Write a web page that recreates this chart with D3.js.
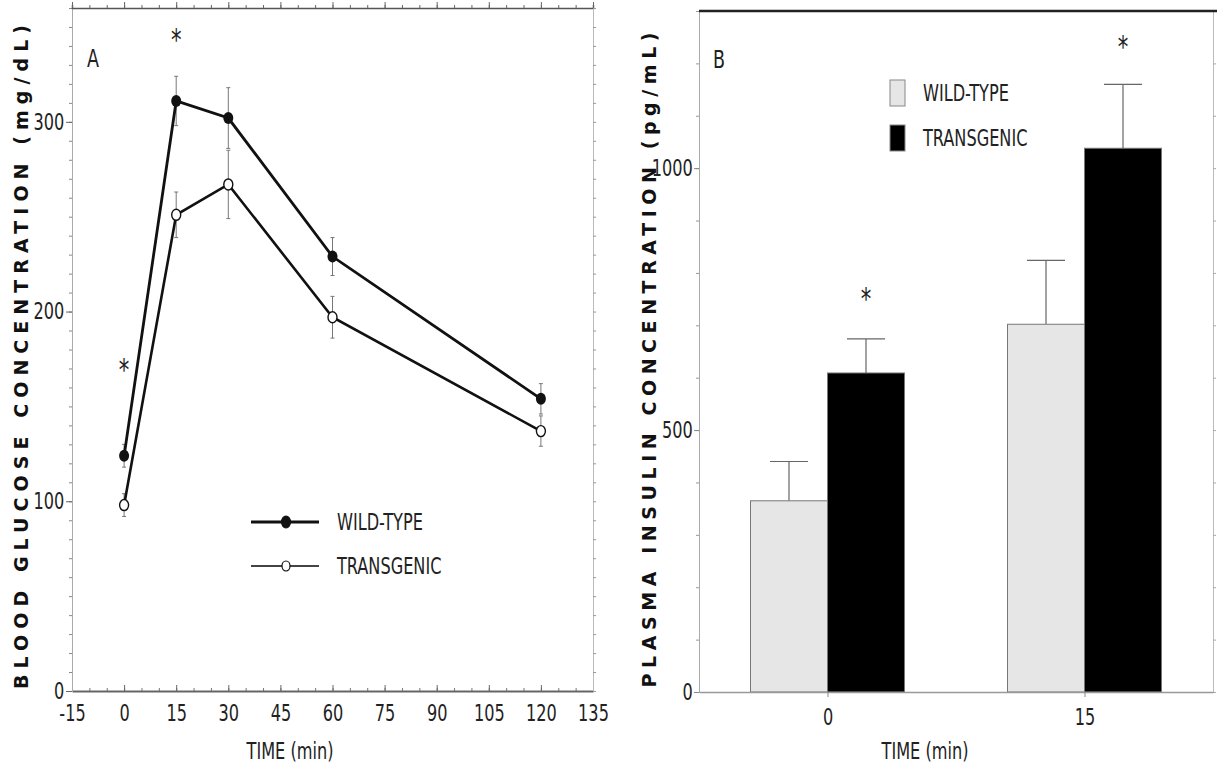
<!DOCTYPE html>
<html lang="en">
<head>
<meta charset="UTF-8">
<title>Glucose and insulin</title>
<script src="https://d3js.org/d3.v7.min.js"></script>
<style>
  body { margin: 0; background: #fff; }
  svg { display: block; }
  .tick text, .lbl { font-family: "DejaVu Sans Condensed", "DejaVu Sans", sans-serif; fill: #222; }
  .ttl { font-family: "DejaVu Sans", Verdana, sans-serif; font-weight: bold; fill: #111; }
</style>
</head>
<body>
<svg id="chart" width="1217" height="784"></svg>
<script>
// panel A: blood glucose after glucose load
const timesA = [0, 15, 30, 60, 120];
const wildGlucose = [124, 311, 302, 229, 154];
const wildGlucoseErr = [6, 13, 16, 10, 8];
const tgGlucose = [98, 251, 267, 197, 137];
const tgGlucoseErr = [6, 12, 18, 11, 8];
const starsA = [[0, 170], [15, 344]];
const xTicksA = [-15, 0, 15, 30, 45, 60, 75, 90, 105, 120, 135];
const yTicksA = [0, 100, 200, 300];

// panel B: plasma insulin
const timesB = ["0", "15"];
const groupsB = ["WILD-TYPE", "TRANSGENIC"];
const wildInsulin = [365, 702];
const wildInsulinErr = [75, 122];
const tgInsulin = [609, 1038];
const tgInsulinErr = [65, 122];
const starsB = [["0", 754], ["15", 1235]];
const yTicksB = [0, 500, 1000];

const svg = d3.select("#chart");
const squeeze = "scale(0.78,1)";

// condensed text label
function label(g, x, y, txt, size, anchor) {
  return g.append("text").attr("class", "lbl")
    .attr("transform", `translate(${x},${y}) ${squeeze}`)
    .attr("text-anchor", anchor || "start")
    .attr("font-size", size).text(txt);
}

function styleTicks(g) {
  g.selectAll("text").attr("font-size", 23).attr("transform", squeeze);
}

// ---------- panel A ----------
const xA = d3.scaleLinear().domain([-15, 135]).range([72, 593]);
const yA = d3.scaleLinear().domain([0, 360]).range([691, 8]);

const gA = svg.append("g");

// minor ticks first, then major axes on top
gA.append("g").attr("transform", `translate(0,${yA(0)})`)
  .call(d3.axisBottom(xA).tickValues(d3.range(-15, 136, 5)).tickSize(-3).tickFormat(""))
  .call(g => g.select(".domain").remove())
  .selectAll("line").attr("stroke", "#777");
gA.append("g").attr("transform", `translate(0,${yA(0)})`)
  .call(d3.axisBottom(xA).tickValues(xTicksA).tickSize(-6).tickSizeOuter(0).tickPadding(14)
    .tickFormat(d => String(d)))
  .call(g => g.select(".domain").attr("stroke", "#666").attr("stroke-width", 2))
  .call(g => g.selectAll("line").attr("stroke", "#666"))
  .call(styleTicks);

gA.append("g").attr("transform", `translate(${xA(-15)},0)`)
  .call(d3.axisLeft(yA).tickValues(d3.range(0, 361, 10)).tickSize(3).tickFormat(""))
  .call(g => g.select(".domain").attr("stroke", "#aaa"))
  .selectAll("line").attr("stroke", "#888");
gA.append("g").attr("transform", `translate(${xA(-15)},0)`)
  .call(d3.axisLeft(yA).tickValues(yTicksA).tickSize(6).tickSizeOuter(0).tickPadding(4)
    .tickFormat(d => String(d)))
  .call(g => g.select(".domain").remove())
  .call(g => g.selectAll("line").attr("stroke", "#666"))
  .call(styleTicks);

gA.append("g").attr("transform", `translate(0,${yA(360)})`)
  .call(d3.axisTop(xA).tickValues(d3.range(-15, 136, 5)).tickSize(3).tickFormat(""))
  .call(g => g.select(".domain").attr("stroke", "#555").attr("stroke-width", 1.5))
  .selectAll("line").attr("stroke", "#666");
gA.append("g").attr("transform", `translate(0,${yA(360)})`)
  .call(d3.axisTop(xA).tickValues(xTicksA).tickSize(6).tickFormat(""))
  .call(g => g.select(".domain").remove())
  .selectAll("line").attr("stroke", "#666");

gA.append("g").attr("transform", `translate(${xA(135)},0)`)
  .call(d3.axisRight(yA).tickValues(d3.range(0, 361, 10)).tickSize(3).tickFormat(""))
  .call(g => g.select(".domain").attr("stroke", "#bbb"))
  .selectAll("line").attr("stroke", "#999");

// error bars
function errA(vals, errs) {
  const g = gA.append("g").attr("stroke", "#777").attr("stroke-width", 1);
  timesA.forEach((t, i) => {
    const x = xA(t), top = yA(vals[i] + errs[i]), bot = yA(vals[i] - errs[i]);
    g.append("line").attr("x1", x).attr("x2", x).attr("y1", top).attr("y2", bot);
    g.append("line").attr("x1", x - 2).attr("x2", x + 2).attr("y1", top).attr("y2", top);
    g.append("line").attr("x1", x - 2).attr("x2", x + 2).attr("y1", bot).attr("y2", bot);
  });
}
errA(wildGlucose, wildGlucoseErr);
errA(tgGlucose, tgGlucoseErr);

const lineA = d3.line().x((d, i) => xA(timesA[i])).y(d => yA(d));
gA.append("path").datum(tgGlucose).attr("d", lineA)
  .attr("fill", "none").attr("stroke", "#111").attr("stroke-width", 2.6);
gA.append("path").datum(wildGlucose).attr("d", lineA)
  .attr("fill", "none").attr("stroke", "#111").attr("stroke-width", 2.8);

gA.selectAll(".tgpt").data(tgGlucose).join("ellipse")
  .attr("cx", (d, i) => xA(timesA[i])).attr("cy", d => yA(d))
  .attr("rx", 4.5).attr("ry", 5.5)
  .attr("fill", "#fff").attr("stroke", "#111").attr("stroke-width", 1.4);
gA.selectAll(".wtpt").data(wildGlucose).join("ellipse")
  .attr("cx", (d, i) => xA(timesA[i])).attr("cy", d => yA(d))
  .attr("rx", 5).attr("ry", 6)
  .attr("fill", "#111");

starsA.forEach(d => label(gA, xA(d[0]), yA(d[1]) + 12, "*", 30, "middle"));
label(gA, 87, 67, "A", 25);

// legend A
const legA = gA.append("g").attr("transform", "translate(251,522)");
[["WILD-TYPE", "#111"], ["TRANSGENIC", "#fff"]].forEach((d, i) => {
  const row = legA.append("g").attr("transform", `translate(0,${i * 44})`);
  row.append("line").attr("x1", 0).attr("x2", 68)
    .attr("stroke", i ? "#444" : "#111").attr("stroke-width", i ? 2 : 2.8);
  row.append("ellipse").attr("cx", 35).attr("rx", i ? 4 : 4.5).attr("ry", i ? 5 : 6)
    .attr("fill", d[1]).attr("stroke", "#111").attr("stroke-width", 1.2);
  label(row, 86, 8, d[0], 23);
});

label(gA, 290, 759, "TIME (min)", 23, "middle");

gA.append("text").attr("class", "ttl")
  .attr("transform", "translate(28,357) rotate(-90)")
  .attr("text-anchor", "middle").attr("font-size", 19)
  .attr("textLength", 664).attr("lengthAdjust", "spacing")
  .text("BLOOD GLUCOSE CONCENTRATION (mg/dL)");

// ---------- panel B ----------
const xB = d3.scalePoint().domain(timesB).range([699, 1213]).padding(0.5);
const xSub = d3.scaleBand().domain(groupsB).range([-77, 77]);
const yB = d3.scaleLinear().domain([0, 1300]).range([692, 11]);

const gB = svg.append("g");

gB.append("g").attr("transform", `translate(${xB.range()[0]},0)`)
  .call(d3.axisLeft(yB).tickValues(d3.range(0, 1301, 100)).tickSize(3).tickFormat(""))
  .call(g => g.select(".domain").attr("stroke", "#aaa"))
  .selectAll("line").attr("stroke", "#999");
gB.append("g").attr("transform", `translate(${xB.range()[0]},0)`)
  .call(d3.axisLeft(yB).tickValues(yTicksB).tickSize(5).tickSizeOuter(0).tickPadding(3)
    .tickFormat(d => String(d)))
  .call(g => g.select(".domain").remove())
  .call(g => g.selectAll("line").attr("stroke", "#888"))
  .call(styleTicks);

gB.append("g").attr("transform", `translate(${xB.range()[1]},0)`)
  .call(d3.axisRight(yB).tickValues(d3.range(0, 1301, 100)).tickSize(3).tickFormat(""))
  .call(g => g.select(".domain").attr("stroke", "#bbb"))
  .selectAll("line").attr("stroke", "#aaa");

gB.append("line")
  .attr("x1", xB.range()[0]).attr("x2", 1217)
  .attr("y1", yB(1300)).attr("y2", yB(1300))
  .attr("stroke", "#222").attr("stroke-width", 2.5);

// bars
const barData = [];
timesB.forEach((t, i) => {
  barData.push({ t, g: groupsB[0], v: wildInsulin[i], e: wildInsulinErr[i] });
  barData.push({ t, g: groupsB[1], v: tgInsulin[i], e: tgInsulinErr[i] });
});
const fillB = { "WILD-TYPE": "#e6e6e6", "TRANSGENIC": "#000" };

const err = gB.append("g").attr("stroke", "#666").attr("stroke-width", 1.2);
barData.forEach(d => {
  const cx = xB(d.t) + xSub(d.g) + xSub.bandwidth() / 2;
  err.append("line").attr("x1", cx).attr("x2", cx).attr("y1", yB(d.v)).attr("y2", yB(d.v + d.e));
  err.append("line").attr("x1", cx - 19).attr("x2", cx + 19).attr("y1", yB(d.v + d.e)).attr("y2", yB(d.v + d.e));
});

gB.selectAll(".bar").data(barData).join("rect")
  .attr("x", d => xB(d.t) + xSub(d.g))
  .attr("width", xSub.bandwidth())
  .attr("y", d => yB(d.v))
  .attr("height", d => yB(0) - yB(d.v))
  .attr("fill", d => fillB[d.g])
  .attr("stroke", "#777").attr("stroke-width", 1);

gB.append("g").attr("transform", `translate(0,${yB(0)})`)
  .call(d3.axisBottom(xB).tickSize(5).tickSizeOuter(0).tickPadding(12))
  .call(g => g.select(".domain").attr("stroke", "#999").attr("stroke-width", 1.5))
  .call(g => g.selectAll("line").attr("stroke", "#888"))
  .call(styleTicks);

starsB.forEach(d => label(gB, xB(d[0]) + xSub("TRANSGENIC") + xSub.bandwidth() / 2,
  yB(d[1]) + 12, "*", 30, "middle"));

label(gB, 713, 68, "B", 25);

// legend B
const legB = gB.append("g").attr("transform", "translate(890,80)");
groupsB.forEach((gname, i) => {
  const row = legB.append("g").attr("transform", `translate(0,${i * 45})`);
  row.append("rect").attr("width", 15).attr("height", 26)
    .attr("fill", fillB[gname]).attr("stroke", "#888");
  label(row, 33, 21, gname, 23);
});

label(gB, 925, 759, "TIME (min)", 23, "middle");

gB.append("text").attr("class", "ttl")
  .attr("transform", "translate(656,360) rotate(-90)")
  .attr("text-anchor", "middle").attr("font-size", 19)
  .attr("textLength", 655).attr("lengthAdjust", "spacing")
  .text("PLASMA INSULIN CONCENTRATION (pg/mL)");
</script>
</body>
</html>
